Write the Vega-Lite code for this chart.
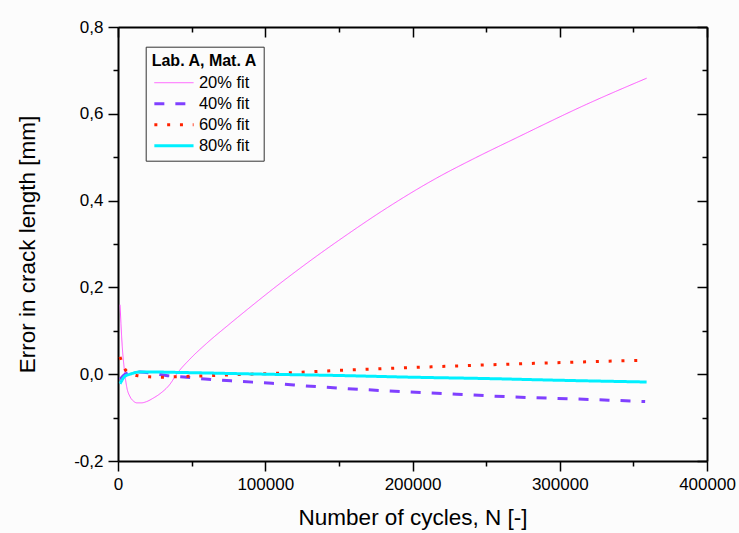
{
  "$schema": "https://vega.github.io/schema/vega-lite/v6.json",
  "width": 589,
  "height": 434,
  "autosize": {"type": "none"},
  "padding": {"left": 118, "top": 27, "right": 32, "bottom": 72},
  "background": "#fcfcfc",
  "config": {
    "view": {"stroke": null},
    "font": "Liberation Sans",
    "axis": {
      "grid": false,
      "domainColor": "black",
      "domainWidth": 2,
      "tickColor": "black",
      "tickWidth": 1.5,
      "labelColor": "black",
      "titleColor": "black",
      "labelFont": "Liberation Sans",
      "titleFont": "Liberation Sans",
      "labelFontSize": 17,
      "titleFontSize": 22.5,
      "titleFontWeight": "normal",
      "labelFlush": false,
      "labelOverlap": false
    },
    "legend": {
      "titleFont": "Liberation Sans",
      "labelFont": "Liberation Sans",
      "titleColor": "black",
      "labelColor": "black"
    }
  },
  "data": {
    "values": [
      {"series": "20% fit", "N": 1400, "error": 0.160},
      {"series": "20% fit", "N": 2000, "error": 0.117},
      {"series": "20% fit", "N": 2900, "error": 0.063},
      {"series": "20% fit", "N": 4100, "error": 0.017},
      {"series": "20% fit", "N": 5900, "error": -0.029},
      {"series": "20% fit", "N": 8200, "error": -0.052},
      {"series": "20% fit", "N": 10500, "error": -0.062},
      {"series": "20% fit", "N": 12700, "error": -0.066},
      {"series": "20% fit", "N": 16000, "error": -0.066},
      {"series": "20% fit", "N": 19500, "error": -0.063},
      {"series": "20% fit", "N": 24000, "error": -0.055},
      {"series": "20% fit", "N": 28500, "error": -0.045},
      {"series": "20% fit", "N": 35300, "error": -0.023},
      {"series": "20% fit", "N": 39800, "error": 0.000},
      {"series": "20% fit", "N": 48900, "error": 0.035},
      {"series": "20% fit", "N": 60000, "error": 0.0705},
      {"series": "20% fit", "N": 75000, "error": 0.1135},
      {"series": "20% fit", "N": 87400, "error": 0.148},
      {"series": "20% fit", "N": 110000, "error": 0.209},
      {"series": "20% fit", "N": 132600, "error": 0.2665},
      {"series": "20% fit", "N": 155300, "error": 0.321},
      {"series": "20% fit", "N": 178000, "error": 0.373},
      {"series": "20% fit", "N": 216400, "error": 0.452},
      {"series": "20% fit", "N": 243000, "error": 0.499},
      {"series": "20% fit", "N": 269600, "error": 0.543},
      {"series": "20% fit", "N": 318300, "error": 0.622},
      {"series": "20% fit", "N": 359000, "error": 0.682},

      {"series": "40% fit", "N": 1400, "error": -0.012},
      {"series": "40% fit", "N": 3500, "error": -0.004},
      {"series": "40% fit", "N": 5900, "error": 0.002},
      {"series": "40% fit", "N": 10000, "error": 0.005},
      {"series": "40% fit", "N": 15000, "error": 0.005},
      {"series": "40% fit", "N": 25000, "error": 0.001},
      {"series": "40% fit", "N": 32600, "error": -0.003},
      {"series": "40% fit", "N": 46600, "error": -0.007},
      {"series": "40% fit", "N": 59000, "error": -0.011},
      {"series": "40% fit", "N": 80000, "error": -0.016},
      {"series": "40% fit", "N": 104600, "error": -0.021},
      {"series": "40% fit", "N": 119500, "error": -0.025},
      {"series": "40% fit", "N": 150000, "error": -0.032},
      {"series": "40% fit", "N": 192200, "error": -0.040},
      {"series": "40% fit", "N": 230000, "error": -0.046},
      {"series": "40% fit", "N": 265100, "error": -0.052},
      {"series": "40% fit", "N": 310000, "error": -0.057},
      {"series": "40% fit", "N": 358000, "error": -0.063},

      {"series": "60% fit", "N": 1400, "error": 0.040},
      {"series": "60% fit", "N": 3000, "error": 0.024},
      {"series": "60% fit", "N": 4800, "error": 0.011},
      {"series": "60% fit", "N": 8000, "error": 0.003},
      {"series": "60% fit", "N": 12700, "error": -0.003},
      {"series": "60% fit", "N": 21700, "error": -0.006},
      {"series": "60% fit", "N": 30800, "error": -0.007},
      {"series": "60% fit", "N": 38700, "error": -0.006},
      {"series": "60% fit", "N": 56400, "error": -0.004},
      {"series": "60% fit", "N": 80000, "error": -0.001},
      {"series": "60% fit", "N": 99800, "error": 0.001},
      {"series": "60% fit", "N": 151900, "error": 0.009},
      {"series": "60% fit", "N": 213000, "error": 0.017},
      {"series": "60% fit", "N": 282700, "error": 0.025},
      {"series": "60% fit", "N": 355000, "error": 0.032},

      {"series": "80% fit", "N": 1400, "error": -0.022},
      {"series": "80% fit", "N": 3000, "error": -0.012},
      {"series": "80% fit", "N": 5000, "error": -0.004},
      {"series": "80% fit", "N": 8200, "error": 0.000},
      {"series": "80% fit", "N": 12000, "error": 0.004},
      {"series": "80% fit", "N": 15000, "error": 0.005},
      {"series": "80% fit", "N": 25000, "error": 0.005},
      {"series": "80% fit", "N": 42100, "error": 0.004},
      {"series": "80% fit", "N": 100000, "error": 0.000},
      {"series": "80% fit", "N": 150000, "error": -0.003},
      {"series": "80% fit", "N": 200600, "error": -0.007},
      {"series": "80% fit", "N": 250000, "error": -0.010},
      {"series": "80% fit", "N": 300000, "error": -0.014},
      {"series": "80% fit", "N": 359000, "error": -0.018}
    ]
  },
  "layer": [
    {
      "mark": {"type": "line", "interpolate": "monotone", "strokeCap": "butt"},
      "encoding": {
        "x": {
          "field": "N", "type": "quantitative",
          "scale": {"domain": [0, 400000], "nice": false, "zero": false},
          "axis": {
            "orient": "bottom",
            "values": [0, 100000, 200000, 300000, 400000],
            "format": "d",
            "tickSize": 10,
            "labelPadding": 5,
            "title": "Number of cycles, N [-]",
            "titlePadding": 14
          }
        },
        "y": {
          "field": "error", "type": "quantitative",
          "scale": {"domain": [-0.2, 0.8], "nice": false, "zero": false},
          "axis": {
            "orient": "left",
            "values": [-0.2, 0, 0.2, 0.4, 0.6, 0.8],
            "labelExpr": "replace(replace(format(datum.value, '.1f'), '.', ','), '\u2212', '-')",
            "tickSize": 10,
            "labelPadding": 5,
            "title": "Error in crack length [mm]",
            "titlePadding": 34
          }
        },
        "strokeWidth": {
          "condition": {"test": "datum.series === '20% fit'", "value": 1},
          "value": 3
        },
        "color": {
          "field": "series", "type": "nominal", "title": "Lab. A, Mat. A",
          "scale": {"domain": ["20% fit", "40% fit", "60% fit", "80% fit"], "range": ["#ff55ff", "#8040ff", "#ff2200", "#00f0ff"]},
          "legend": {"orient": "none", "legendX": 27.7, "legendY": 19.7, "symbolType": "M-2.8,0H2.8", "symbolSize": 196, "symbolOffset": 14, "labelOffset": 16.7, "labelAlign": "left", "padding": 6, "rowPadding": 4, "titlePadding": 5.75, "titleFontSize": 16, "titleFontWeight": "bold", "labelFontSize": 16.5, "fillColor": "#fcfcfc", "strokeColor": "#333333",
            "encode": {"symbols": {"update": {"strokeWidth": {"signal": "datum.value === '20% fit' ? 1 : 3"}}}}}
        },
        "strokeDash": {
          "field": "series", "type": "nominal", "title": "Lab. A, Mat. A",
          "scale": {"domain": ["20% fit", "40% fit", "60% fit", "80% fit"], "range": [[1, 0], [10, 11], [3, 9.8], [1, 0]]},
          "legend": {"orient": "none", "legendX": 27.7, "legendY": 19.7, "symbolType": "M-2.8,0H2.8", "symbolSize": 196, "symbolOffset": 14, "labelOffset": 16.7, "labelAlign": "left", "padding": 6, "rowPadding": 4, "titlePadding": 5.75, "titleFontSize": 16, "titleFontWeight": "bold", "labelFontSize": 16.5, "fillColor": "#fcfcfc", "strokeColor": "#333333",
            "encode": {"symbols": {"update": {"strokeWidth": {"signal": "datum.value === '20% fit' ? 1 : 3"}}}}}
        }
      }
    },
    {
      "mark": {"type": "point", "opacity": 0},
      "encoding": {
        "x": {"field": "N", "type": "quantitative",
          "axis": {"orient": "bottom", "values": [50000, 150000, 250000, 350000], "tickSize": 5, "labels": false, "domain": false, "title": null}},
        "y": {"field": "error", "type": "quantitative",
          "axis": {"orient": "left", "values": [-0.1, 0.1, 0.3, 0.5, 0.7], "tickSize": 5, "labels": false, "domain": false, "title": null}}
      }
    },
    {
      "mark": {"type": "point", "opacity": 0},
      "encoding": {
        "x": {"field": "N", "type": "quantitative",
          "axis": {"orient": "top", "values": [0, 100000, 200000, 300000, 400000], "tickSize": -10, "labels": false, "title": null}},
        "y": {"field": "error", "type": "quantitative",
          "axis": {"orient": "right", "values": [-0.2, 0, 0.2, 0.4, 0.6, 0.8], "tickSize": -10, "labels": false, "title": null}}
      }
    },
    {
      "mark": {"type": "point", "opacity": 0},
      "encoding": {
        "x": {"field": "N", "type": "quantitative",
          "axis": {"orient": "top", "values": [50000, 150000, 250000, 350000], "tickSize": -5, "labels": false, "domain": false, "title": null}},
        "y": {"field": "error", "type": "quantitative",
          "axis": {"orient": "right", "values": [-0.1, 0.1, 0.3, 0.5, 0.7], "tickSize": -5, "labels": false, "domain": false, "title": null}}
      }
    }
  ],
  "resolve": {"axis": {"x": "independent", "y": "independent"}}
}
